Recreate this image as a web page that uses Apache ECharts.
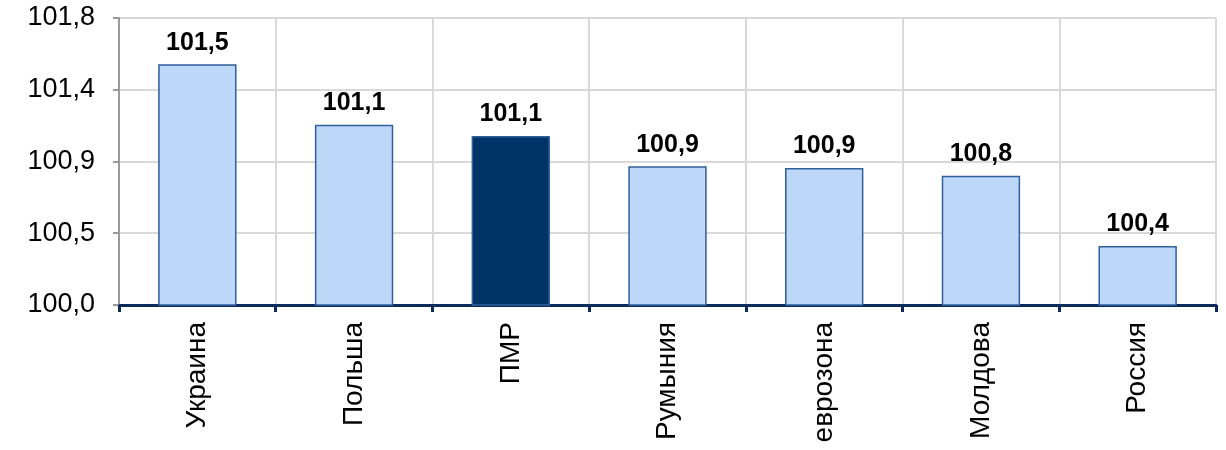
<!DOCTYPE html>
<html>
<head>
<meta charset="utf-8">
<script src="https://cdn.jsdelivr.net/npm/echarts@6/dist/echarts.min.js"></script>
<style>html,body{margin:0;padding:0;background:#fff}#c{width:1226px;height:450px}</style>
</head>
<body>
<div id="c"></div>
<script>
const categories = ['Украина', 'Польша', 'ПМР', 'Румыния', 'еврозона', 'Молдова', 'Россия'];
const values = [101.51, 101.13, 101.06, 100.87, 100.86, 100.81, 100.37];
const highlightCategory = 'ПМР';
const yTickValues = [100, 100.45, 100.9, 101.35, 101.8];
const yTickLabels = ['100,0', '100,5', '100,9', '101,4', '101,8'];

const light = '#bdd7f8', dark = '#003366', border = '#30609a';
const chart = echarts.init(document.getElementById('c'), null, {renderer: 'canvas'});
chart.setOption({
  animation: false,
  grid: {left: 119, right: 10, top: 18, bottom: 145},
  xAxis: {
    type: 'category',
    data: categories,
    axisLine: {lineStyle: {color: '#0b2c5a', width: 3}},
    axisTick: {show: true, length: 7, lineStyle: {color: '#0b2c5a', width: 3}},
    splitLine: {show: true, lineStyle: {color: '#d9d9d9', width: 2}},
    axisLabel: {rotate: 90, margin: 17, color: '#000', fontSize: 28, fontFamily: 'Liberation Sans, Arial, sans-serif', interval: 0}
  },
  yAxis: {
    type: 'value',
    min: 100, max: 101.8,
    axisLine: {show: true, lineStyle: {color: '#9a9a9a', width: 2}},
    axisTick: {show: true, length: 6, customValues: yTickValues, lineStyle: {color: '#9a9a9a', width: 2}},
    splitLine: {show: true, lineStyle: {color: '#d9d9d9', width: 2}},
    axisLabel: {
      customValues: yTickValues,
      margin: 24, color: '#000', fontSize: 27, fontFamily: 'Liberation Sans, Arial, sans-serif',
      formatter: function (v) {
        let best = 0;
        for (let i = 0; i < yTickValues.length; i++) if (Math.abs(yTickValues[i] - v) < Math.abs(yTickValues[best] - v)) best = i;
        return yTickLabels[best];
      }
    }
  },
  series: [{
    type: 'bar',
    barWidth: '50%',
    data: values.map((v, i) => ({
      value: v,
      itemStyle: {color: categories[i] === highlightCategory ? dark : light, borderColor: border, borderWidth: 1.5}
    })),
    label: {
      show: true, position: 'top', distance: 9, color: '#000', fontWeight: 'bold', fontSize: 25,
      fontFamily: 'Liberation Sans, Arial, sans-serif',
      formatter: p => p.value.toFixed(1).replace('.', ',')
    }
  }]
});
</script>
</body>
</html>
